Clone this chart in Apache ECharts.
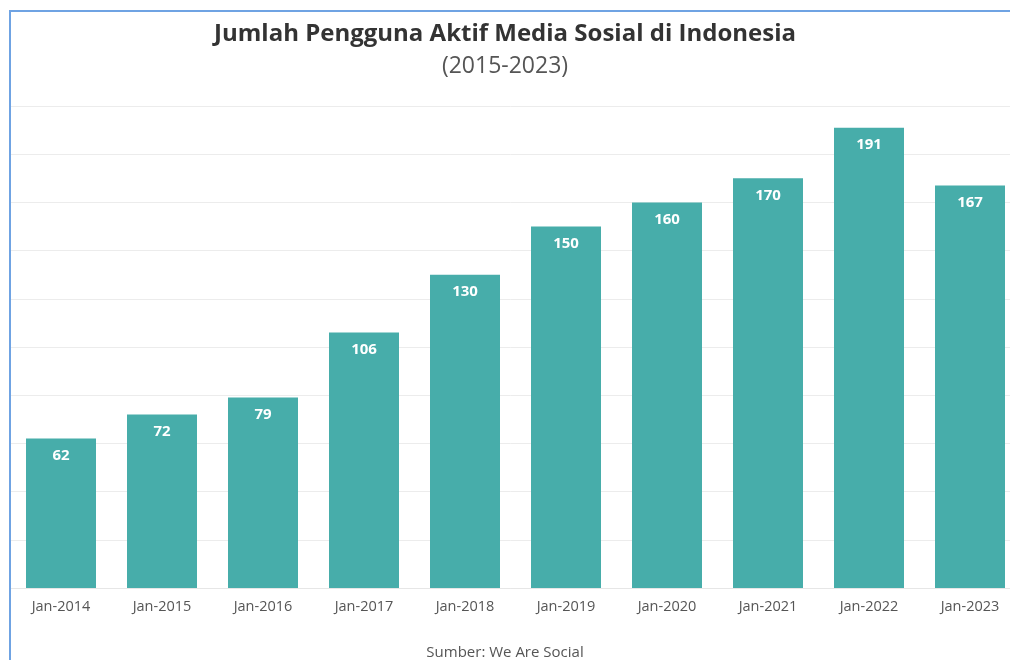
<!DOCTYPE html>
<html>
<head>
<meta charset="utf-8">
<script src="https://cdn.jsdelivr.net/npm/echarts@6/dist/echarts.min.js"></script>
<style>
html,body{margin:0;padding:0;background:#fff;}
#chart{width:1010px;height:660px;}
</style>
</head>
<body>
<div id="chart"></div>
<script>
const categories = ['Jan-2014','Jan-2015','Jan-2016','Jan-2017','Jan-2018','Jan-2019','Jan-2020','Jan-2021','Jan-2022','Jan-2023'];
const users = [62, 72, 79, 106, 130, 150, 160, 170, 191, 167];
const titleText = 'Jumlah Pengguna Aktif Media Sosial di Indonesia';
const subtitleText = '(2015-2023)';
const sourceText = 'Sumber: We Are Social';

const chart = echarts.init(document.getElementById('chart'));
chart.setOption({
  backgroundColor: '#fff',
  animation: false,
  title: [
    {text: titleText, left: 'center', top: 17,
     textStyle: {fontFamily: 'Open Sans', fontSize: 24, fontWeight: 'bold', color: '#333'}},
    {text: subtitleText, left: 'center', top: 50,
     textStyle: {fontFamily: 'Open Sans', fontSize: 23, fontWeight: 'normal', color: '#555'}},
    {text: sourceText, left: 'center', top: 640,
     textStyle: {fontFamily: 'Open Sans', fontSize: 15, fontWeight: 'normal', color: '#555'}}
  ],
  graphic: [{
    type: 'polyline',
    shape: {points: [[10, 700], [10, 11], [1020, 11]]},
    style: {stroke: '#6fa3e3', lineWidth: 2, fill: null},
    z: 100
  }],
  grid: {left: 10.5, width: 1010, top: 106, bottom: 72, containLabel: false, outerBoundsMode: 'none'},
  xAxis: {
    type: 'category',
    data: categories,
    axisLine: {show: true, lineStyle: {color: '#e6e6e6'}},
    axisTick: {show: false},
    axisLabel: {fontFamily: 'Open Sans', fontSize: 14.5, color: '#555', margin: 11}
  },
  yAxis: {
    type: 'value',
    min: 0, max: 200, interval: 20,
    axisLabel: {show: false},
    axisLine: {show: false},
    axisTick: {show: false},
    splitLine: {lineStyle: {color: '#ececec', width: 1}}
  },
  series: [{
    type: 'bar',
    data: users,
    barWidth: 70,
    itemStyle: {color: '#47adaa'},
    label: {
      show: true, position: 'insideTop', distance: 10,
      fontFamily: 'Open Sans', fontSize: 15, fontWeight: 'bold', color: '#fff'
    }
  }]
});
</script>
</body>
</html>
